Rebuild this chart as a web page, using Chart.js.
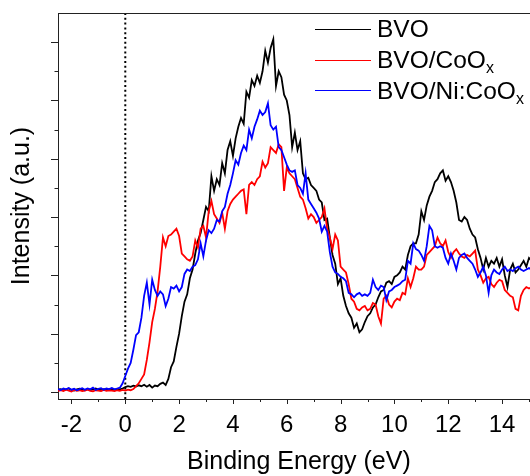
<!DOCTYPE html>
<html>
<head>
<meta charset="utf-8">
<title>Valence band XPS</title>
<script src="https://cdn.jsdelivr.net/npm/chart.js@4.4.1/dist/chart.umd.min.js"></script>
<style>
    html, body { margin: 0; padding: 0; background: #fff; overflow: hidden; }
    #wrap { position: relative; width: 530px; height: 476px; overflow: hidden; }
    #xps-chart { display: block; }
    #legend {
        position: absolute; left: 315px; top: 14px;
        font-family: "Liberation Sans", Arial, sans-serif; font-size: 24.5px; color: #000;
    }
    #legend .row { display: flex; align-items: center; height: 30.7px; white-space: nowrap; }
    #legend .swatch { display: inline-block; width: 56px; height: 0; border-top: 1.6px solid #000; margin-right: 6px; }
    #legend .sub { font-size: 16px; position: relative; top: 5px; }
</style>
</head>
<body>
<div id="wrap">
    <canvas id="xps-chart" width="541" height="476"></canvas>
    <div id="legend"></div>
</div>
<script>
// energy grid of the spectra (eV)
const energyStart = -2.5;
const energyStep = 0.1;

const seriesNames = ['BVO', 'BVO/CoOx', 'BVO/Ni:CoOx'];
const seriesColors = ['#000000', '#ff0000', '#0000ff'];
const xTickLabels = [-2, 0, 2, 4, 6, 8, 10, 12, 14];

// intensities (a.u.), one row per eV, starting at -2.5 eV
const bvo = [
    0.08, 0.10, 0.06, 0.09, 0.12, 0.07, 0.05, 0.09, 0.11, 0.08,
    0.06, 0.10, 0.07, 0.09, 0.12, 0.08, 0.06, 0.10, 0.09, 0.07,
    0.11, 0.08, 0.10, 0.09, 0.12, 0.17, 0.20, 0.18, 0.22, 0.19,
    0.23, 0.20, 0.25, 0.18, 0.24, 0.15, 0.22, 0.20, 0.28, 0.32,
    0.24, 0.45, 0.85, 1.05, 1.55, 2.0, 2.6, 3.1, 3.35, 3.9,
    4.2, 4.75, 5.2, 5.45, 5.9, 6.35, 6.2, 7.4, 6.9, 7.3,
    7.1, 7.85, 7.5, 8.3, 8.6, 8.1, 8.7, 9.1, 9.4, 9.2,
    10.3, 10.1, 10.7, 10.5, 10.85, 10.6, 11.0, 11.7, 11.3, 11.8,
    12.1, 10.5, 11.0, 10.8, 10.2, 10.0, 9.5, 8.4, 8.9, 8.3,
    8.6, 7.5, 7.3, 7.35, 7.1, 7.0, 6.9, 6.6, 6.5, 5.9,
    5.95, 5.3, 4.7, 4.4, 3.7, 3.9, 3.3, 2.95, 2.7, 2.55,
    2.2, 2.35, 2.05, 2.15, 2.4, 2.6, 2.7, 2.9, 3.0, 3.25,
    3.45, 3.5, 3.75, 3.8, 3.7, 3.95, 4.0, 4.1, 4.3, 4.2,
    4.7, 5.0, 5.1, 5.1, 5.4, 6.2, 5.9, 6.4, 6.7, 6.9,
    7.2, 7.3, 7.5, 7.6, 7.25, 7.4, 7.2, 6.9, 6.5, 5.9,
    5.85, 6.0, 5.9, 5.6, 5.4, 5.3, 4.9, 4.6, 4.2, 4.6,
    4.3, 4.5, 4.4, 4.6, 4.3, 4.55, 4.0, 3.6, 4.2, 4.4,
    4.1, 4.2, 4.35, 4.5, 4.3, 4.6, 4.5, 4.4, 4.6, 4.5
];
const bvoCoOx = [
    0.04, 0.06, 0.03, 0.08, 0.05, 0.02, 0.07, 0.04, 0.06, 0.03,
    0.05, 0.08, 0.04, 0.02, 0.06, 0.05, 0.03, 0.07, 0.04, 0.06,
    0.05, 0.03, 0.06, 0.04, 0.07, 0.05, 0.08, 0.06, 0.10, 0.20,
    0.30, 0.45, 0.60, 1.1, 1.7, 2.4, 2.85, 3.45, 4.3, 5.3,
    5.0, 5.35, 5.4, 5.5, 5.6, 5.35, 4.75, 4.65, 4.55, 4.5,
    4.65, 5.2, 4.95, 5.6, 5.7, 5.3, 6.2, 6.55, 6.1, 5.95,
    5.8, 6.15, 5.6, 6.2, 6.45, 6.6, 6.7, 6.8, 6.9, 6.95,
    6.1, 7.1, 7.2, 7.1, 7.3, 7.4, 7.9, 7.7, 7.85, 8.4,
    8.3, 8.2, 8.5, 8.4, 6.9, 7.7, 7.5, 7.4, 7.3, 7.0,
    6.7, 6.6, 6.3, 5.95, 6.1, 6.0, 5.8, 5.9, 6.0, 6.3,
    5.6, 5.3, 4.9, 5.4, 5.2, 4.3, 4.2, 4.1, 3.7, 3.2,
    3.1, 2.85, 2.8, 2.9, 2.95, 2.8, 2.85, 3.05, 3.0, 2.6,
    2.35, 3.2, 3.3, 3.0, 2.9, 3.1, 3.2, 3.15, 3.4, 3.35,
    3.9, 3.6, 3.9, 4.3, 4.2, 4.2, 4.3, 4.7, 4.8, 4.9,
    5.0, 5.3, 5.1, 5.0, 5.2, 4.8, 4.6, 4.8, 4.9, 4.75,
    4.65, 4.6, 4.7, 4.65, 4.75, 4.85, 4.2, 4.0, 3.75, 3.9,
    3.95, 3.7, 3.6, 3.75, 3.85, 3.8, 3.5, 3.4, 3.3, 3.25,
    2.85, 2.8, 3.3, 3.5, 3.6, 3.55, 3.6, 3.5, 3.4, 3.6
];
const bvoNiCoOx = [
    0.10, 0.07, 0.12, 0.09, 0.14, 0.08, 0.11, 0.06, 0.10, 0.13,
    0.08, 0.12, 0.09, 0.15, 0.07, 0.11, 0.13, 0.08, 0.12, 0.10,
    0.14, 0.09, 0.12, 0.15, 0.30, 0.55, 0.8, 1.0, 1.45, 1.95,
    2.05, 2.55, 3.3, 3.75, 3.0, 3.85, 3.5, 3.3, 3.45, 3.35,
    2.95, 3.2, 3.6, 3.55, 3.65, 3.45, 3.6, 4.05, 4.2, 4.15,
    4.3, 4.35, 4.55, 5.1, 4.65, 5.2, 5.55, 5.45, 5.6, 5.9,
    5.85, 6.2, 6.35, 6.8, 7.1, 7.5, 7.95, 7.8, 8.2, 8.45,
    8.3, 9.0, 8.7, 9.1, 9.35, 9.65, 9.5, 9.6, 9.9, 9.15,
    9.0, 9.1, 8.4, 8.3, 8.05, 7.8, 7.6, 7.55, 7.6, 7.1,
    7.0, 6.8, 7.5, 6.6, 6.45, 6.3, 6.15, 5.95, 5.5, 5.7,
    5.5, 4.8, 4.3, 4.1, 4.05, 3.95, 3.9, 3.8, 3.4, 3.35,
    3.25, 3.35, 3.4, 3.3, 3.35, 3.3, 3.4, 3.85, 3.6, 3.5,
    3.65, 3.6, 3.15, 3.45, 3.5, 3.6, 3.65, 3.7, 3.8, 3.85,
    4.5, 4.4, 5.1, 4.9, 4.85, 4.7, 4.5, 5.0, 5.7, 5.55,
    5.0, 4.95, 5.0, 4.95, 4.6, 4.4, 4.75, 4.5, 4.2, 4.6,
    4.7, 4.75, 4.6, 4.5, 4.4, 4.2, 3.95, 4.1, 4.3, 4.0,
    3.4, 4.0, 4.2, 4.1, 4.05, 4.2, 4.3, 4.15, 4.2, 4.15,
    4.25, 4.3, 4.2, 4.15, 4.2, 4.25, 4.2, 4.3, 4.2, 4.25
];

const fermiLevel = 0;
const xMin = -2.5, xMax = 15.4;
const yMin = -0.24, yMax = 13;

const fontFamily = '"Liberation Sans", Arial, sans-serif';

function toPoints(values) {
    return values.map((v, i) => ({x: +(energyStart + i * energyStep).toFixed(2), y: v}));
}

//Tick marks (outside, long/short) and the top frame line
const frameTicks = {
    id: 'frameTicks',
    afterDraw(chart) {
        const {ctx, chartArea: area, scales: {x, y}} = chart;
        ctx.save();
        ctx.strokeStyle = '#222';
        ctx.lineWidth = 1;

        ctx.beginPath();
        ctx.moveTo(area.left, area.top + 0.5);
        ctx.lineTo(area.right, area.top + 0.5);
        ctx.stroke();

        x.ticks.forEach((t) => {
            const px = Math.round(x.getPixelForValue(t.value)) + 0.5;
            const len = t.value % 2 === 0 ? 5 : 3;
            ctx.beginPath();
            ctx.moveTo(px, area.bottom);
            ctx.lineTo(px, area.bottom + len);
            ctx.stroke();
        });

        y.ticks.forEach((t) => {
            if (t.value > 12.9) return;
            const py = Math.round(y.getPixelForValue(t.value)) + 0.5;
            const len = t.value % 2 === 0 ? 7 : 3.5;
            ctx.beginPath();
            ctx.moveTo(area.left, py);
            ctx.lineTo(area.left - len, py);
            ctx.stroke();
        });
        ctx.restore();
    }
};

const spectra = [bvo, bvoCoOx, bvoNiCoOx];
const datasets = spectra.map((values, i) => ({
    label: seriesNames[i],
    data: toPoints(values),
    borderColor: seriesColors[i],
    borderWidth: 1.8,
    pointRadius: 0,
    tension: 0,
    order: spectra.length - 1 - i,
}));

datasets.push({
    label: 'Fermi level',
    data: [{x: fermiLevel, y: yMin}, {x: fermiLevel, y: yMax}],
    borderColor: '#000',
    borderWidth: 2,
    borderDash: [2, 2.8],
    pointRadius: 0,
    order: 5,
});

const ctx = document.getElementById('xps-chart').getContext('2d');
const xpsChart = new Chart(ctx, {
    type: 'line',
    data: {datasets: datasets},
    options: {
        responsive: false,
        animation: false,
        devicePixelRatio: 1,
        layout: {padding: {top: 13, right: 0, bottom: 0, left: 0}},
        plugins: {
            legend: {display: false},
            tooltip: {enabled: false},
        },
        scales: {
            x: {
                type: 'linear',
                min: xMin,
                max: xMax,
                grid: {display: false, drawTicks: false},
                border: {display: true, color: '#222', width: 1},
                ticks: {
                    stepSize: 1,
                    includeBounds: false,
                    autoSkip: false,
                    maxRotation: 0,
                    padding: 12,
                    color: '#000',
                    font: {family: fontFamily, size: 24},
                    callback: (v) => xTickLabels.includes(v) ? String(v) : '',
                },
                title: {
                    display: true,
                    text: 'Binding Energy (eV)',
                    color: '#000',
                    font: {family: fontFamily, size: 25, lineHeight: 1},
                    padding: {top: 0, bottom: 1},
                },
                afterFit: (scale) => { scale.height = 77; },
            },
            y: {
                min: yMin,
                max: yMax,
                grid: {display: false, drawTicks: false},
                border: {display: true, color: '#222', width: 1},
                ticks: {display: false, stepSize: 1, includeBounds: false},
                title: {
                    display: true,
                    text: 'Intensity (a.u.)',
                    color: '#000',
                    font: {family: fontFamily, size: 25, lineHeight: 1},
                    padding: {top: 10, bottom: 0},
                },
                afterFit: (scale) => { scale.width = 58; },
            },
        },
    },
    plugins: [frameTicks],
});

// HTML legend (needs the subscript x)
const legendEl = document.getElementById('legend');
xpsChart.data.datasets.slice(0, seriesNames.length).forEach((ds) => {
    const row = document.createElement('div');
    row.className = 'row';
    const swatch = document.createElement('span');
    swatch.className = 'swatch';
    swatch.style.borderTopColor = ds.borderColor;
    const label = document.createElement('span');
    label.innerHTML = ds.label.replace(/Ox$/, 'O<span class="sub">x</span>');
    row.appendChild(swatch);
    row.appendChild(label);
    legendEl.appendChild(row);
});
</script>
</body>
</html>
